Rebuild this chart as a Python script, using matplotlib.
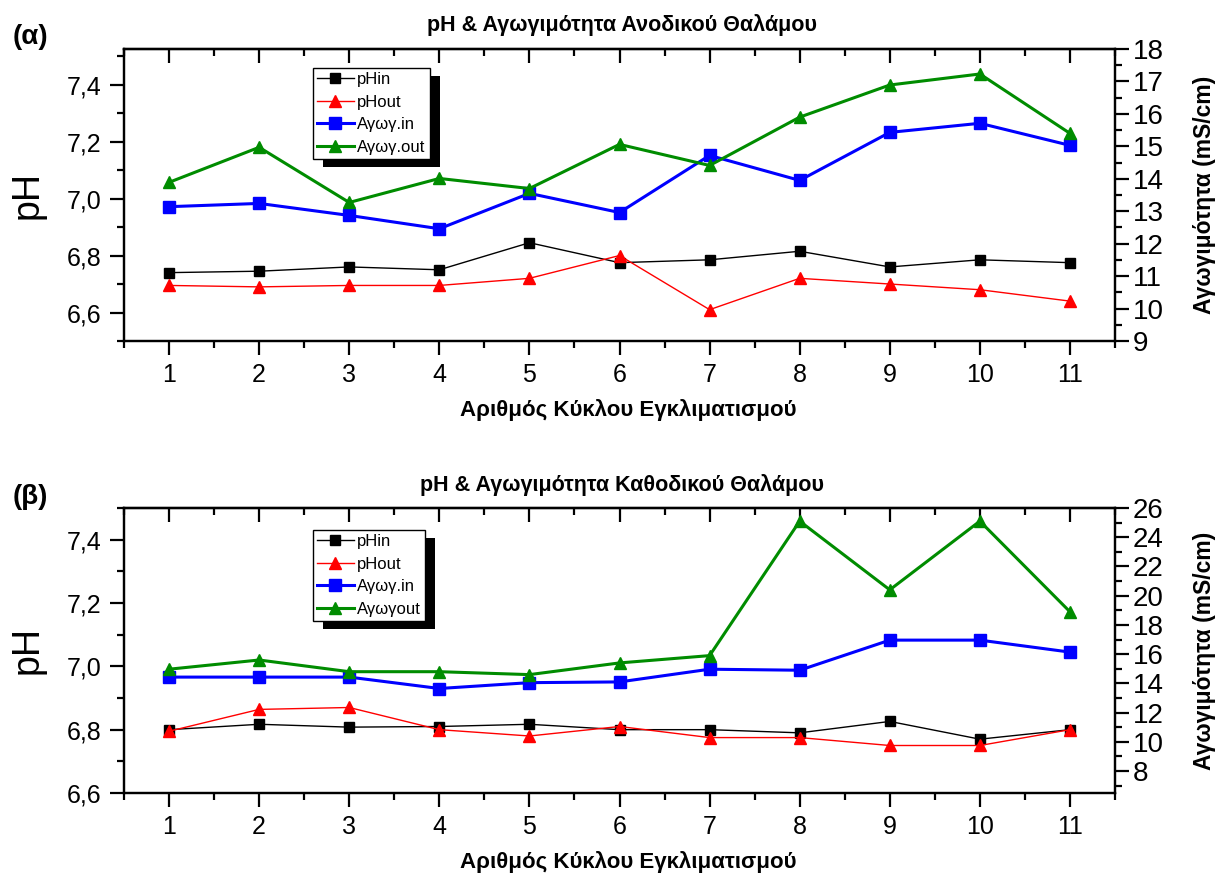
import numpy as np
import matplotlib
matplotlib.use("Agg")
import matplotlib.pyplot as plt
from matplotlib.ticker import MultipleLocator, FuncFormatter
from matplotlib.patches import Rectangle

plt.rcParams['font.family'] = ['Liberation Sans', 'DejaVu Sans']

cycles = np.arange(1, 12)

# (α) anodic chamber
ph_in_a = [6.74, 6.745, 6.76, 6.75, 6.845, 6.775, 6.785, 6.815, 6.76, 6.785, 6.775]
ph_out_a = [6.695, 6.69, 6.695, 6.695, 6.72, 6.80, 6.61, 6.72, 6.70, 6.68, 6.64]
cond_in_a = [13.14, 13.24, 12.87, 12.46, 13.55, 12.96, 14.72, 13.95, 15.43, 15.71, 15.03]
cond_out_a = [13.89, 14.97, 13.27, 14.01, 13.70, 15.06, 14.41, 15.90, 16.89, 17.23, 15.40]

# (β) cathodic chamber
ph_in_b = [6.80, 6.817, 6.808, 6.81, 6.817, 6.80, 6.80, 6.79, 6.826, 6.77, 6.80]
ph_out_b = [6.795, 6.864, 6.87, 6.80, 6.78, 6.81, 6.775, 6.775, 6.75, 6.75, 6.80]
cond_in_b = [14.43, 14.43, 14.43, 13.65, 14.05, 14.1, 14.97, 14.9, 16.96, 16.96, 16.14]
cond_out_b = [14.97, 15.6, 14.8, 14.8, 14.6, 15.4, 15.9, 25.1, 20.4, 25.1, 18.9]

W, H = 1226, 889
fig = plt.figure(figsize=(W / 100, H / 100), dpi=100)


def px(x, y):
    return x / W, 1 - y / H


def comma(v, pos):
    return f"{v:.1f}".replace(".", ",")


def make_panel(top, bottom, ph_in, ph_out, c_in, c_out, ph_lim, c_lim, c_major,
               title, letter, letter_xy, title_y, xlabel_y, labels, legend_y):
    l, r = 124, 1115
    ax = fig.add_axes([l / W, 1 - bottom / H, (r - l) / W, (bottom - top) / H])
    ax2 = ax.twinx()

    h1, = ax.plot(cycles, ph_in, color='black', lw=1, marker='s', ms=7, label=labels[0], zorder=3)
    h2, = ax.plot(cycles, ph_out, color='red', lw=1, marker='^', ms=9, label=labels[1], zorder=3)
    h3, = ax2.plot(cycles, c_in, color='#0000ff', lw=2.2, marker='s', ms=8, label=labels[2])
    h4, = ax2.plot(cycles, c_out, color='#008c00', lw=2.2, marker='^', ms=9, label=labels[3])

    ax.set_xlim(0.5, 11.5)
    ax.set_ylim(*ph_lim)
    ax2.set_ylim(*c_lim)

    ax.xaxis.set_major_locator(MultipleLocator(1))
    ax.xaxis.set_minor_locator(MultipleLocator(0.5))
    ax.yaxis.set_major_locator(MultipleLocator(0.2))
    ax.yaxis.set_minor_locator(MultipleLocator(0.1))
    ax.yaxis.set_major_formatter(FuncFormatter(comma))
    ax2.yaxis.set_major_locator(MultipleLocator(c_major))
    ax2.yaxis.set_minor_locator(MultipleLocator(c_major / 2))

    for a in (ax, ax2):
        for s in a.spines.values():
            s.set_linewidth(1.6)
    ax.tick_params(axis='x', which='both', direction='out', top=False, width=1.6)
    ax.tick_params(axis='x', which='major', length=10, labelsize=18, pad=6)
    ax.tick_params(axis='x', which='minor', length=5)
    ax.tick_params(axis='y', which='both', direction='out', right=False, width=1.6)
    ax.tick_params(axis='y', which='major', length=10, labelsize=18, pad=6)
    ax.tick_params(axis='y', which='minor', length=5)
    ax2.tick_params(axis='y', which='both', direction='out', width=1.6)
    ax2.tick_params(axis='y', which='major', length=10, labelsize=20, pad=3)
    ax2.tick_params(axis='y', which='minor', length=5)

    # inward mirrored ticks on the top spine
    sec = ax.secondary_xaxis('top')
    sec.xaxis.set_major_locator(MultipleLocator(1))
    sec.xaxis.set_minor_locator(MultipleLocator(0.5))
    sec.tick_params(axis='x', which='both', direction='in', labeltop=False, width=1.6)
    sec.tick_params(axis='x', which='major', length=10)
    sec.tick_params(axis='x', which='minor', length=5)
    sec.spines['top'].set_linewidth(1.6)

    fig.text(*px(622, title_y), title, ha='center', va='center', fontsize=15.5, fontweight='bold')
    fig.text(*px(628, xlabel_y), 'Αριθμός Κύκλου Εγκλιματισμού', ha='center', va='center',
             fontsize=16, fontweight='bold')
    fig.text(*px(*letter_xy), letter, ha='center', va='center', fontsize=20, fontweight='bold')
    fig.text(*px(28, (top + bottom) / 2), 'pH', ha='center', va='center', rotation=90, fontsize=27)
    fig.text(*px(1205, (top + bottom) / 2), 'Αγωγιμότητα (mS/cm)', ha='center', va='center',
             rotation=90, fontsize=16.5, fontweight='bold')

    leg = ax2.legend(handles=[h1, h2, h3, h4], loc='upper left',
                     bbox_to_anchor=px(313, legend_y), bbox_transform=fig.transFigure,
                     fontsize=12, frameon=True, fancybox=False, edgecolor='black',
                     framealpha=1, borderpad=0.25, labelspacing=0.45, handlelength=2.2,
                     handletextpad=0.2, borderaxespad=0)
    leg.get_frame().set_linewidth(1.0)
    leg.set_zorder(10)
    return ax2, leg


legends = []
legends.append(make_panel(49, 341, ph_in_a, ph_out_a, cond_in_a, cond_out_a, (6.5, 7.525), (9, 18), 1,
                          'pH & Αγωγιμότητα Ανοδικού Θαλάμου', '(α)', (30, 37), 25, 410,
                          ['pHin', 'pHout', 'Αγωγ.in', 'Αγωγ.out'], 68))
legends.append(make_panel(508, 793, ph_in_b, ph_out_b, cond_in_b, cond_out_b, (6.6, 7.5), (6.5, 26), 2,
                          'pH & Αγωγιμότητα Καθοδικού Θαλάμου', '(β)', (30, 497), 485, 862,
                          ['pHin', 'pHout', 'Αγωγ.in', 'Αγωγout'], 530))

# solid black drop shadow behind each legend box
fig.canvas.draw()
for ax2, leg in legends:
    bb = leg.get_window_extent()
    shadow = Rectangle((bb.x0 + 10, bb.y0 - 8), bb.width, bb.height, transform=None,
                       facecolor='black', edgecolor='none', zorder=9, clip_on=False)
    ax2.add_artist(shadow)

fig.savefig('out.png', dpi=100)
